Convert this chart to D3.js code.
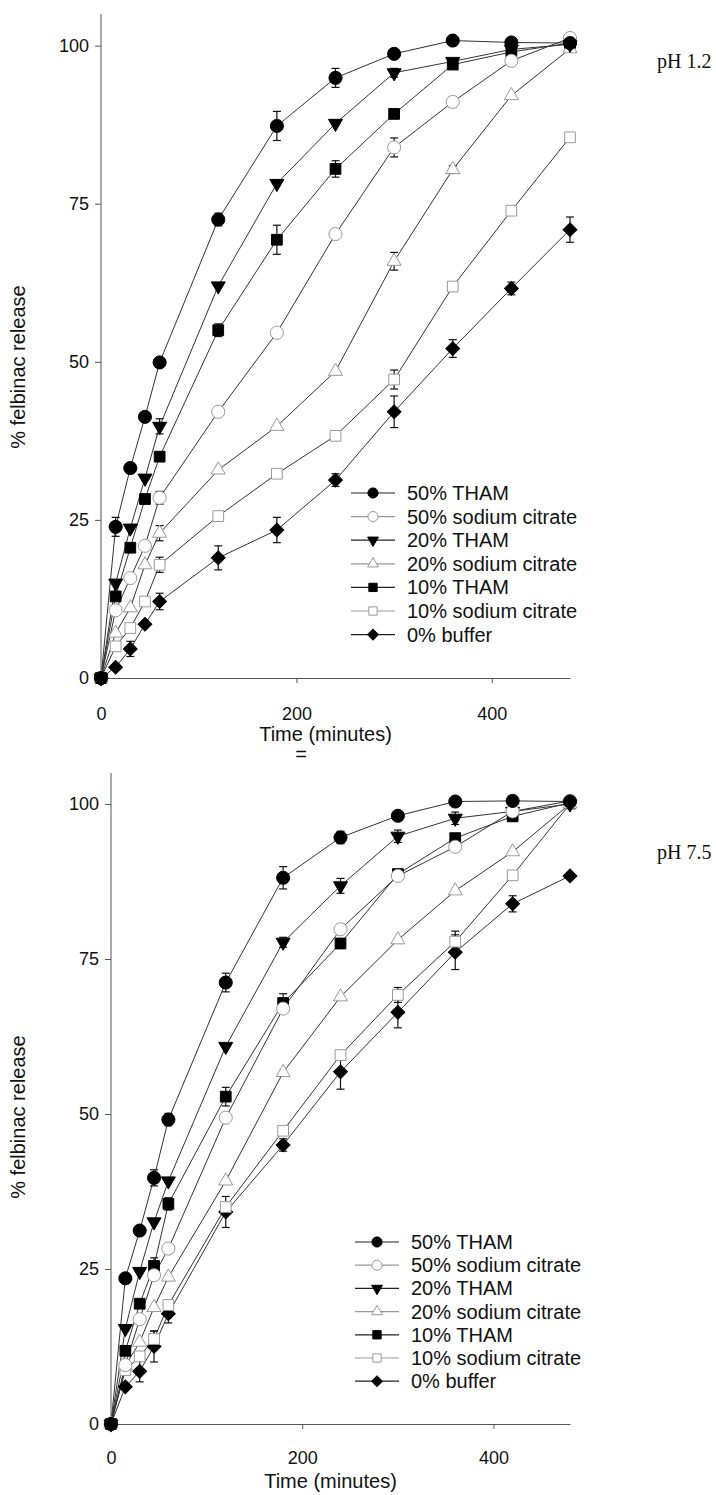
<!DOCTYPE html>
<html>
<head>
<meta charset="utf-8">
<script src="https://cdn.jsdelivr.net/npm/d3@7"></script>
<style>
	body { margin: 0; background: #fff; }
	svg { display: block; font-family: 'Liberation Sans', Arial, sans-serif; }
	.axis path, .axis line { stroke: #555; }
	.axis text { fill: #111; font-size: 18px; }
	.title { font-size: 20px; fill: #111; }
	.ph { font-family: 'Liberation Serif', 'Times New Roman', serif; font-size: 20px; fill: #111; }
	.legend text { font-size: 20px; fill: #111; }
</style>
</head>
<body>
<script>
const times = [0, 15, 30, 45, 60, 120, 180, 240, 300, 360, 420, 480]
const seriesNames = ['50% THAM', '50% sodium citrate', '20% THAM', '20% sodium citrate', '10% THAM', '10% sodium citrate', '0% buffer']
const xTicks = [0, 200, 400]
const yTicks = [0, 25, 50, 75, 100]

// pH 1.2
const acidTham50 = [0, 23.9, 33.2, 41.3, 49.9, 72.5, 87.3, 94.9, 98.7, 100.8, 100.5, 100.4]
const acidTham50Err = [0, 1.5, 0, 0, 0, 1, 2.3, 1.5, 0, 0, 0, 0]
const acidCitrate50 = [0, 10.7, 15.8, 20.9, 28.5, 42.1, 54.6, 70.2, 83.9, 91.1, 97.6, 101.2]
const acidCitrate50Err = [0, 0, 0, 0, 1, 0, 0, 0, 1.5, 0.8, 0, 0]
const acidTham20 = [0, 15, 23.7, 31.6, 39.8, 62, 78.2, 87.7, 95.7, 97.5, 99.4, 100.2]
const acidTham20Err = [0, 0, 0, 0, 1.2, 0, 0, 0, 0.7, 0, 0, 0]
const acidCitrate20 = [0, 7.1, 11.1, 17.9, 22.9, 32.9, 39.8, 48.5, 65.9, 80.4, 92.1, 99.5]
const acidCitrate20Err = [0, 0, 0, 0, 1.2, 0, 0, 0, 1.4, 0.6, 0, 0]
const acidTham10 = [0, 12.9, 20.6, 28.3, 35, 55, 69.3, 80.5, 89.2, 97, 99, 100.4]
const acidTham10Err = [0, 0, 0, 0, 0, 1, 2.3, 1.3, 0, 0.6, 0, 0]
const acidCitrate10 = [0, 5, 7.9, 12.1, 17.9, 25.6, 32.3, 38.3, 47.2, 61.9, 73.9, 85.5]
const acidCitrate10Err = [0, 0, 0, 0, 1.2, 0, 0, 0, 1.5, 0, 0, 0]
const acidBuffer0 = [0, 1.7, 4.6, 8.5, 12.1, 19, 23.4, 31.3, 42.1, 52.1, 61.6, 70.9]
const acidBuffer0Err = [0, 0, 1.2, 0, 1.3, 1.9, 2, 1, 2.5, 1.4, 1, 2]

// pH 7.5
const baseTham50 = [0, 23.5, 31.2, 39.7, 49.1, 71.2, 88.1, 94.6, 98.1, 100.4, 100.5, 100.4]
const baseTham50Err = [0, 0, 0, 1.3, 1, 1.5, 1.8, 1, 0, 0, 0, 0]
const baseCitrate50 = [0, 9.5, 16.9, 24, 28.3, 49.4, 67, 79.8, 88.4, 93.1, 98.8, 100.5]
const baseCitrate50Err = [0, 0, 0, 0, 0, 0, 0, 0, 0, 0, 0, 0]
const baseTham20 = [0, 15.4, 24.6, 32.6, 39.2, 60.9, 77.7, 86.8, 94.8, 97.7, 98.8, 100]
const baseTham20Err = [0, 0, 0, 0, 0, 0, 0.8, 1.2, 1, 1, 0, 0]
const baseCitrate20 = [0, 9.4, 13.2, 18.8, 23.7, 39.2, 56.7, 68.9, 78.1, 86, 92.3, 100]
const baseCitrate20Err = [0, 0, 0, 0, 0, 0, 0, 0, 0, 0, 0, 0]
const baseTham10 = [0, 11.8, 19.4, 25.5, 35.5, 52.8, 67.9, 77.5, 88.7, 94.5, 98, 100.2]
const baseTham10Err = [0, 0, 0, 1.3, 1, 1.5, 1.5, 0.8, 0, 0, 0, 0]
const baseCitrate10 = [0, 8.7, 10.9, 13.7, 19.2, 35, 47.3, 59.5, 69.2, 77.8, 88.5, 100]
const baseCitrate10Err = [0, 0, 0, 1.3, 0, 0, 0, 0, 1.2, 1.7, 0, 0]
const baseBuffer0 = [0, 6, 8.5, 12.5, 17.8, 34.2, 45, 56.8, 66.4, 76.1, 83.9, 88.4]
const baseBuffer0Err = [0, 0, 1.7, 2.5, 1.5, 2.5, 1, 2.8, 2.5, 2.8, 1.3, 0]

// marker style per series (same order as seriesNames)
const markers = [
	{ type: d3.symbolCircle, fill: '#000', stroke: '#000', size: 135, rot: 0 },
	{ type: d3.symbolCircle, fill: '#fff', stroke: '#999', size: 135, rot: 0 },
	{ type: d3.symbolTriangle, fill: '#000', stroke: '#000', size: 85, rot: 180 },
	{ type: d3.symbolTriangle, fill: '#fff', stroke: '#999', size: 85, rot: 0 },
	{ type: d3.symbolSquare, fill: '#000', stroke: '#000', size: 115, rot: 0 },
	{ type: d3.symbolSquare, fill: '#fff', stroke: '#999', size: 115, rot: 0 },
	{ type: d3.symbolSquare, fill: '#000', stroke: '#000', size: 95, rot: 45 }
]

const panels = [
	{
		ph: 'pH 1.2',
		left: 101, right: 570, bottom: 678, top: 14,
		phX: 657, phY: 68,
		legendX: 351, legendY: 493, legendStep: 23.6,
		tickY: 720, titleY: 741, extra: '=',
		yTitle: 367,
		values: [acidTham50, acidCitrate50, acidTham20, acidCitrate20, acidTham10, acidCitrate10, acidBuffer0],
		errors: [acidTham50Err, acidCitrate50Err, acidTham20Err, acidCitrate20Err, acidTham10Err, acidCitrate10Err, acidBuffer0Err]
	},
	{
		ph: 'pH 7.5',
		left: 111, right: 570, bottom: 1424, top: 773,
		phX: 657, phY: 859,
		legendX: 355, legendY: 1242, legendStep: 23.2,
		tickY: 1464, titleY: 1488, extra: null,
		yTitle: 1117,
		values: [baseTham50, baseCitrate50, baseTham20, baseCitrate20, baseTham10, baseCitrate10, baseBuffer0],
		errors: [baseTham50Err, baseCitrate50Err, baseTham20Err, baseCitrate20Err, baseTham10Err, baseCitrate10Err, baseBuffer0Err]
	}
]

const W = 716
const H = 1495

const svg = d3.select('body').append('svg')
	.attr('width', W)
	.attr('height', H)

function translate(x, y) {
	return `translate(${x}, ${y})`
}

function symbolPath(m, scale) {
	return d3.symbol().type(m.type).size(m.size * (scale || 1))()
}

function drawPanel(p) {
	const scaleX = d3.scaleLinear().domain([0, 480]).range([p.left, p.right])
	const scaleY = d3.scaleLinear().domain([0, 105]).range([p.bottom, p.top])

	const g = svg.append('g')

	// axes
	const yAxis = g.append('g')
		.attr('class', 'axis')
		.attr('transform', translate(p.left, 0))
		.call(d3.axisLeft(scaleY).tickValues(yTicks).tickSize(6).tickPadding(6).tickSizeOuter(0))
	yAxis.select('.domain').attr('d', `M0,${p.bottom}V${p.top}`)

	const xAxis = g.append('g')
		.attr('class', 'axis')
		.attr('transform', translate(0, p.bottom))
		.call(d3.axisBottom(scaleX).tickValues(xTicks).tickSize(5).tickSizeOuter(0))
	xAxis.selectAll('.tick line').filter(d => d === 0).remove()
	xAxis.selectAll('.tick text')
		.attr('y', p.tickY - p.bottom)
		.attr('dy', 0)

	g.append('text')
		.attr('class', 'title')
		.attr('x', (p.left + p.right) / 2 - 10)
		.attr('y', p.titleY)
		.attr('text-anchor', 'middle')
		.text('Time (minutes)')

	if (p.extra) {
		g.append('text')
			.attr('class', 'title')
			.attr('x', 301)
			.attr('y', p.titleY + 20)
			.attr('text-anchor', 'middle')
			.text(p.extra)
	}

	g.append('text')
		.attr('class', 'title')
		.attr('transform', `translate(25, ${p.yTitle}) rotate(-90)`)
		.attr('text-anchor', 'middle')
		.text('% felbinac release')

	g.append('text')
		.attr('class', 'ph')
		.attr('x', p.phX)
		.attr('y', p.phY)
		.text(p.ph)

	// series lines, error bars, markers (draw last series first so the top ones sit above)
	const line = d3.line()
		.x((d, i) => scaleX(times[i]))
		.y(d => scaleY(d))

	const order = d3.range(seriesNames.length).reverse()

	order.forEach(s => {
		g.append('path')
			.attr('d', line(p.values[s]))
			.attr('fill', 'none')
			.attr('stroke', '#333')
			.attr('stroke-width', 1)
	})

	order.forEach(s => {
		const vals = p.values[s]
		const errs = p.errors[s]
		const sg = g.append('g')

		const eb = sg.selectAll('.err')
			.data(vals.map((v, i) => ({ t: times[i], v, e: errs[i] })).filter(d => d.e > 0))
			.enter().append('g')
			.attr('class', 'err')
			.attr('stroke', '#111')
			.attr('stroke-width', 1.2)

		eb.append('line')
			.attr('x1', d => scaleX(d.t)).attr('x2', d => scaleX(d.t))
			.attr('y1', d => scaleY(d.v - d.e)).attr('y2', d => scaleY(d.v + d.e))
		eb.append('line')
			.attr('x1', d => scaleX(d.t) - 4).attr('x2', d => scaleX(d.t) + 4)
			.attr('y1', d => scaleY(d.v + d.e)).attr('y2', d => scaleY(d.v + d.e))
		eb.append('line')
			.attr('x1', d => scaleX(d.t) - 4).attr('x2', d => scaleX(d.t) + 4)
			.attr('y1', d => scaleY(d.v - d.e)).attr('y2', d => scaleY(d.v - d.e))

		const m = markers[s]
		sg.selectAll('.pt')
			.data(vals)
			.enter().append('path')
			.attr('class', 'pt')
			.attr('d', symbolPath(m))
			.attr('transform', (d, i) => `${translate(scaleX(times[i]), scaleY(d))} rotate(${m.rot})`)
			.attr('fill', m.fill)
			.attr('stroke', m.stroke)
			.attr('stroke-width', 1)
	})

	// legend
	const legend = g.append('g')
		.attr('class', 'legend')
		.attr('transform', translate(p.legendX, p.legendY))

	const item = legend.selectAll('g')
		.data(seriesNames)
		.enter().append('g')
		.attr('transform', (d, i) => translate(0, i * p.legendStep))

	item.append('line')
		.attr('x1', 0).attr('x2', 44)
		.attr('y1', 0).attr('y2', 0)
		.attr('stroke', (d, i) => markers[i].fill === '#000' ? '#222' : '#999')
		.attr('stroke-width', 1.2)

	item.append('path')
		.attr('d', (d, i) => symbolPath(markers[i], 0.6))
		.attr('transform', (d, i) => `${translate(22, 0)} rotate(${markers[i].rot})`)
		.attr('fill', (d, i) => markers[i].fill)
		.attr('stroke', (d, i) => markers[i].stroke)

	item.append('text')
		.attr('x', 56)
		.attr('y', 7)
		.text(d => d)
}

panels.forEach(drawPanel)
</script>
</body>
</html>
